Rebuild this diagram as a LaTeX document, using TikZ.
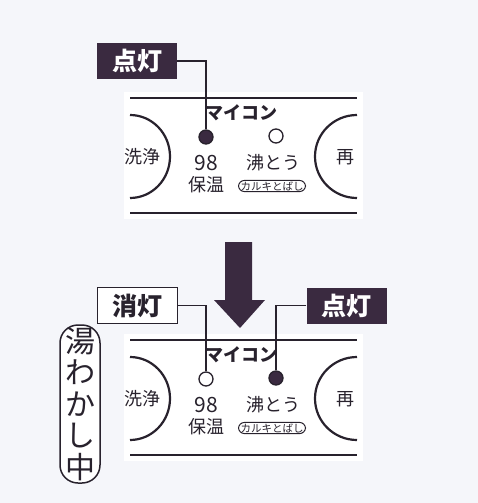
\documentclass[tikz,border=0pt]{standalone}
\usepackage{fontspec}
\setmainfont{Noto Sans CJK JP}
\usetikzlibrary{calc}
\definecolor{plum}{RGB}{58,42,64}
\definecolor{ink}{RGB}{40,34,45}
\definecolor{paper}{RGB}{245,246,250}

\begin{document}
\begin{tikzpicture}[x=1pt, y=-1pt,
	key/.style={font=\fontsize{18}{18}\selectfont, text=ink, inner sep=0pt},
	lamp/.style={circle, draw=ink, line width=1.3pt, minimum size=14pt, inner sep=0pt},
	tag on/.style={fill=plum, text=white, font=\fontsize{25}{25}\selectfont\bfseries,
		minimum width=80pt, minimum height=36pt, inner sep=0pt},
	tag off/.style={tag on, fill=white, draw=ink, line width=1.6pt, text=ink},
	leader/.style={draw=ink, line width=1.5pt}]
	% Page size in pixels (y runs downwards)
	\useasboundingbox (0,0) rectangle (478,503);
	\fill[paper] (0,0) rectangle (478,503);
	
	% The two control panels, 242 apart
	\foreach \dy/\p/\keepfill/\boilfill in {0/a/plum/white, 242/b/white/plum}{
		\fill[white] (124,\dy+92) rectangle (363,\dy+219);
		\draw[line width=2.8pt, ink] (130,\dy+98) -- (357,\dy+98);
		\draw[line width=2.8pt, ink] (130,\dy+213) -- (357,\dy+213);
		\draw[line width=2.2pt, ink] (130,\dy+115) arc[start angle=-90, end angle=90, x radius=40, y radius=41.5];
		\draw[line width=2.2pt, ink] (357,\dy+115) arc[start angle=-90, end angle=-270, x radius=42, y radius=41.5];
		
		\node[key, font=\fontsize{18}{18}\selectfont\bfseries] (\p-micom) at (241,\dy+113) {マイコン};
		\node[key] (\p-wash) at (142,\dy+157) {洗浄};
		\node[key] (\p-re) at (345,\dy+157) {再};
		\node[key, font=\fontsize{21}{21}\selectfont] (\p-98) at (206,\dy+163) {98};
		\node[key] (\p-warm) at (206,\dy+185) {保温};
		\node[key] (\p-boiltxt) at (273,\dy+163) {沸とう};
		\node[draw=ink, line width=1pt, rounded corners=6pt, text=ink,
			font=\fontsize{10.5}{10.5}\selectfont, inner xsep=2pt, inner ysep=1pt]
			(\p-calc) at (272,\dy+186) {カルキとばし};
		
		% Lamps
		\node[lamp, fill=\keepfill] (\p-keep) at (206,\dy+137) {};
		\node[lamp, fill=\boilfill] (\p-boil) at (276,\dy+136) {};
	}
	
	% Lamp labels
	\node[tag on] (a-lit) at (137,61) {点灯};
	\node[tag off] (b-off) at (137.5,305.5) {消灯};
	\node[tag on] (b-lit) at (346.5,305.5) {点灯};
	
	\draw[leader] (a-lit.east) -| (a-keep.north);
	\draw[leader] (b-off.east) -| (b-keep.north);
	\draw[leader] (b-lit.west) -| (b-boil.north);
	
	% Big arrow between the panels
	\fill[plum] (225,242) -- (252,242) -- (252,300) -- (265,300) -- (240,328)
		-- (214,300) -- (225,300) -- cycle;
	
	% Vertical status label
	\node[draw=ink, fill=white, line width=1.5pt, rounded corners=18pt, minimum width=40pt,
		minimum height=158pt, inner sep=0pt, align=center, text=ink,
		font=\fontsize{30}{31.5}\selectfont] (boiling) at (80,404) {湯\\わ\\か\\し\\中};
\end{tikzpicture}
\end{document}
